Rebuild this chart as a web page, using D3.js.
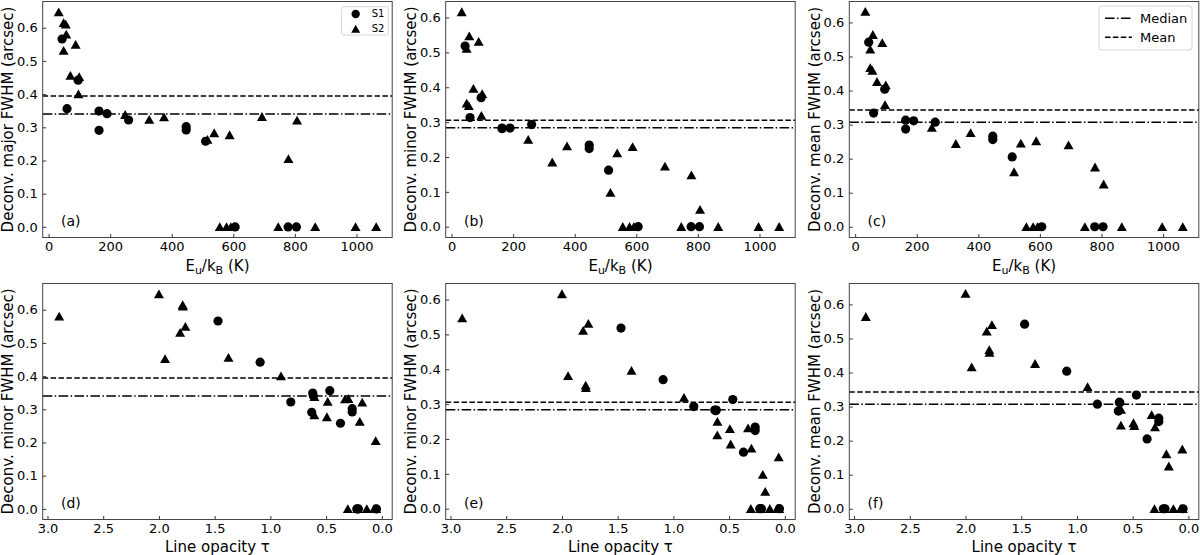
<!DOCTYPE html>
<html>
<head>
<meta charset="utf-8">
<script src="https://cdn.jsdelivr.net/npm/d3@7"></script>
<style>
  body { margin: 0; background: #fff; }
  svg { display: block; font-family: "DejaVu Sans", sans-serif; }
</style>
</head>
<body>
<svg id="chart" width="1200" height="555"></svg>
<script>
// S1 lines (circles)
const s1Eu    = [44, 60, 96, 164, 164, 190, 260, 447, 447, 510, 606, 778, 805];
const s1Tau   = [1.47, 0.467, 1.092, 0.62, 0.629, 0.615, 0.817, 0.266, 0.266, 0.371, 0.225, 0.21, 0.048];
const s1Major = [0.566, 0.356, 0.442, 0.349, 0.291, 0.341, 0.322, 0.302, 0.292, 0.258, 0, 0, 0];
const s1Minor = [0.518, 0.313, 0.370, 0.281, 0.283, 0.283, 0.293, 0.234, 0.224, 0.162, 0, 0, 0];
const s1Mean  = [0.542, 0.334, 0.404, 0.313, 0.287, 0.311, 0.307, 0.266, 0.256, 0.205, 0, 0, 0];

// S2 lines (triangles)
const s2Eu    = [33, 49, 56, 57.5, 49, 88, 71, 99.5, 97, 249, 327, 375, 516, 538, 588, 693, 779, 807,
                 556, 578, 592, 746, 866, 997, 1064];
const s2Tau   = [2.0, 1.787, 1.785, 2.895, 1.81, 1.763, 1.376, 1.945, 0.905, 0.605, 0.486, 0.33, 0.198, 0.606, 0.493, 0.30, 0.055, 0.176,
                 0.305, 0.22, 0.215, 0.135, 0.07, 0.05, 0.06];
const s2Major = [0.647, 0.615, 0.610, 0.580, 0.531, 0.549, 0.456, 0.452, 0.400, 0.338, 0.323, 0.331, 0.263, 0.283, 0.277, 0.332, 0.205, 0.321,
                 0, 0, 0, 0, 0, 0, 0];
const s2Minor = [0.616, 0.354, 0.347, 0.547, 0.511, 0.531, 0.396, 0.381, 0.319, 0.250, 0.185, 0.231, 0.098, 0.211, 0.229, 0.173, 0.148, 0.049,
                 0, 0, 0, 0, 0, 0, 0];
const s2Mean  = [0.632, 0.467, 0.459, 0.564, 0.521, 0.540, 0.426, 0.416, 0.358, 0.291, 0.244, 0.276, 0.161, 0.245, 0.252, 0.240, 0.175, 0.125,
                 0, 0, 0, 0, 0, 0, 0];

// horizontal reference lines: major, minor, mean
const medianVals = [0.340, 0.284, 0.307];
const meanVals   = [0.394, 0.305, 0.343];

const euTicks  = [0, 200, 400, 600, 800, 1000];
const tauTicks = [3.0, 2.5, 2.0, 1.5, 1.0, 0.5, 0.0];
const yTicks   = [0, 0.1, 0.2, 0.3, 0.4, 0.5, 0.6];

const euDomain    = [-19, 1116];
const tauDomain   = [3.043, -0.093];
const majorDomain = [-0.032, 0.679];
const minorDomain = [-0.031, 0.646];
const meanDomain  = [-0.0315, 0.6615];

const svg = d3.select("#chart");

const colLeft = [42.7, 445.7, 849.3];
const rowTop = [1.5, 283.5];
const panelW = 349.5;
const panelH = 236;

const panels = [
  {letter: "(a)", row: 0, col: 0, xs: "eu",  ylabel: "Deconv. major FWHM (arcsec)", yDom: majorDomain, k: 0, s1y: s1Major, s2y: s2Major, legend: "points"},
  {letter: "(b)", row: 0, col: 1, xs: "eu",  ylabel: "Deconv. minor FWHM (arcsec)", yDom: minorDomain, k: 1, s1y: s1Minor, s2y: s2Minor},
  {letter: "(c)", row: 0, col: 2, xs: "eu",  ylabel: "Deconv. mean FWHM (arcsec)",  yDom: meanDomain,  k: 2, s1y: s1Mean,  s2y: s2Mean, legend: "lines"},
  {letter: "(d)", row: 1, col: 0, xs: "tau", ylabel: "Deconv. minor FWHM (arcsec)", yDom: majorDomain, k: 0, s1y: s1Major, s2y: s2Major},
  {letter: "(e)", row: 1, col: 1, xs: "tau", ylabel: "Deconv. minor FWHM (arcsec)", yDom: minorDomain, k: 1, s1y: s1Minor, s2y: s2Minor},
  {letter: "(f)", row: 1, col: 2, xs: "tau", ylabel: "Deconv. mean FWHM (arcsec)",  yDom: meanDomain,  k: 2, s1y: s1Mean,  s2y: s2Mean}
];

const triPath = "M0,-4.6L-5,4.2L5,4.2Z";
const medianDash = "9.6,2.4,1.5,2.4";
const meanDash = "5.5,2.4";

panels.forEach(p => {
  const x0 = colLeft[p.col], y0 = rowTop[p.row];
  const g = svg.append("g").attr("transform", `translate(${x0},${y0})`);

  const isEu = p.xs === "eu";
  const x = d3.scaleLinear().domain(isEu ? euDomain : tauDomain).range([0, panelW]);
  const y = d3.scaleLinear().domain(p.yDom).range([panelH, 0]);

  // median / mean lines
  g.append("line")
    .attr("x1", 0).attr("x2", panelW)
    .attr("y1", y(medianVals[p.k])).attr("y2", y(medianVals[p.k]))
    .attr("stroke", "#000").attr("stroke-width", 1.5)
    .attr("stroke-dasharray", medianDash);
  g.append("line")
    .attr("x1", 0).attr("x2", panelW)
    .attr("y1", y(meanVals[p.k])).attr("y2", y(meanVals[p.k]))
    .attr("stroke", "#000").attr("stroke-width", 1.5)
    .attr("stroke-dasharray", meanDash);

  const s1x = isEu ? s1Eu : s1Tau;
  const s2x = isEu ? s2Eu : s2Tau;

  g.selectAll("circle.s1")
    .data(d3.zip(s1x, p.s1y))
    .enter().append("circle")
    .attr("class", "s1")
    .attr("cx", d => x(d[0]))
    .attr("cy", d => y(d[1]))
    .attr("r", 4.6)
    .attr("fill", "#000");

  g.selectAll("path.s2")
    .data(d3.zip(s2x, p.s2y))
    .enter().append("path")
    .attr("class", "s2")
    .attr("d", triPath)
    .attr("transform", d => `translate(${x(d[0])},${y(d[1])})`)
    .attr("fill", "#000");

  // axes with inward ticks
  const yAxis = g.append("g")
    .call(d3.axisLeft(y).tickValues(yTicks).tickSize(-3.5).tickPadding(5).tickFormat(d3.format(".1f")));
  const xAxis = g.append("g")
    .attr("transform", `translate(0,${panelH})`)
    .call(d3.axisBottom(x)
      .tickValues(isEu ? euTicks : tauTicks)
      .tickSize(-3.5).tickPadding(4.5)
      .tickFormat(isEu ? d3.format("d") : d3.format(".1f")));
  [yAxis, xAxis].forEach(a => {
    a.select(".domain").remove();
    a.selectAll("text").attr("font-size", 13).attr("fill", "#000").attr("font-family", "DejaVu Sans");
    a.selectAll("line").attr("stroke", "#000").attr("stroke-width", 0.8);
  });

  g.append("rect")
    .attr("width", panelW).attr("height", panelH)
    .attr("fill", "none").attr("stroke", "#444").attr("stroke-width", 1);

  // panel letter
  g.append("text")
    .attr("x", 18.3).attr("y", panelH - 11.5)
    .attr("font-size", 14)
    .text(p.letter);

  // y label
  g.append("text")
    .attr("transform", `translate(-29.5,${panelH / 2}) rotate(-90)`)
    .attr("text-anchor", "middle")
    .attr("font-size", 15)
    .text(p.ylabel);

  // x label
  const xl = g.append("text")
    .attr("x", panelW / 2)
    .attr("y", panelH + (isEu ? 33.5 : 32))
    .attr("text-anchor", "middle")
    .attr("font-size", 15);
  if (isEu) {
    xl.append("tspan").text("E");
    xl.append("tspan").attr("font-size", 11).attr("dy", 3).text("u");
    xl.append("tspan").attr("dy", -3).text("/k");
    xl.append("tspan").attr("font-size", 11).attr("dy", 3).text("B");
    xl.append("tspan").attr("dy", -3).text(" (K)");
  } else {
    xl.text("Line opacity τ");
  }

  // legends
  if (p.legend === "points") {
    const lg = g.append("g").attr("transform", `translate(${341.7 - x0},${6.7 - y0})`);
    lg.append("rect").attr("width", 46.6).attr("height", 28.3).attr("rx", 2)
      .attr("fill", "#fff").attr("stroke", "#ccc").attr("stroke-width", 0.8);
    lg.append("circle").attr("cx", 14).attr("cy", 7.3).attr("r", 4.2).attr("fill", "#000");
    lg.append("path").attr("d", triPath).attr("transform", "translate(14,22.3) scale(0.9)").attr("fill", "#000");
    lg.append("text").attr("x", 30).attr("y", 10.8).attr("font-size", 10).text("S1");
    lg.append("text").attr("x", 30).attr("y", 25.8).attr("font-size", 10).text("S2");
  }
  if (p.legend === "lines") {
    const lg = g.append("g").attr("transform", `translate(${1099 - x0},${6 - y0})`);
    lg.append("rect").attr("width", 93).attr("height", 44).attr("rx", 3)
      .attr("fill", "#fff").attr("stroke", "#ccc").attr("stroke-width", 0.8);
    lg.append("line").attr("x1", 6).attr("x2", 33).attr("y1", 12.3).attr("y2", 12.3)
      .attr("stroke", "#000").attr("stroke-width", 1.5).attr("stroke-dasharray", medianDash);
    lg.append("line").attr("x1", 6).attr("x2", 33).attr("y1", 31.3).attr("y2", 31.3)
      .attr("stroke", "#000").attr("stroke-width", 1.5).attr("stroke-dasharray", meanDash);
    lg.append("text").attr("x", 41).attr("y", 17).attr("font-size", 13).text("Median");
    lg.append("text").attr("x", 41).attr("y", 36).attr("font-size", 13).text("Mean");
  }
});
</script>
</body>
</html>
